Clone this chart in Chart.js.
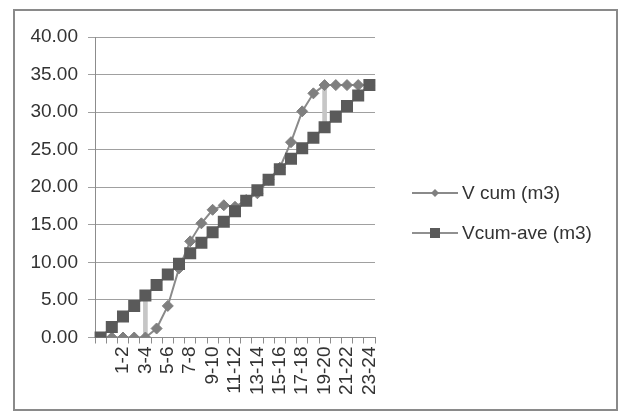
<!DOCTYPE html>
<html>
<head>
<meta charset="utf-8">
<script src="https://cdn.jsdelivr.net/npm/chart.js@4.4.1/dist/chart.umd.min.js"></script>
<style>
html, body { margin: 0; padding: 0; background: #fff; }
#wrap { width: 622px; height: 416px; position: relative; }
</style>
</head>
<body>
<div id="wrap"><canvas id="chart" width="622" height="416"></canvas></div>
<script>
/* -------------------- DATA -------------------- */
const hours = ['', '0-1', '1-2', '2-3', '3-4', '4-5', '5-6', '6-7', '7-8', '8-9', '9-10', '10-11',
    '11-12', '12-13', '13-14', '14-15', '15-16', '16-17', '17-18', '18-19', '19-20', '20-21',
    '21-22', '22-23', '23-24'];

const vCum = [0.00, 0.00, 0.00, 0.00, 0.00, 1.20, 4.20, 9.20, 12.80, 15.20, 17.00, 17.60,
    17.40, 18.30, 19.20, 21.00, 22.60, 26.00, 30.10, 32.50, 33.60, 33.60, 33.60, 33.60, 33.60];

const vCumAve = [0.00, 1.40, 2.80, 4.20, 5.60, 7.00, 8.40, 9.80, 11.20, 12.60, 14.00, 15.40,
    16.80, 18.20, 19.60, 21.00, 22.40, 23.80, 25.20, 26.60, 28.00, 29.40, 30.80, 32.20, 33.60];

// max gap markers (light grey bars)
const gapBars = [null, null, null, null, [0.00, 5.60], null, null, null, null, null, null, null,
    null, null, null, null, null, null, null, null, [28.00, 33.60], null, null, null, null];

const yTicks = [0, 5, 10, 15, 20, 25, 30, 35, 40];

/* -------------------- PLUGINS -------------------- */
const frame = {
    id: 'frame',
    afterDraw(chart) {
        const ctx = chart.ctx;
        ctx.save();
        ctx.strokeStyle = '#8a8a8a';
        ctx.lineWidth = 2;
        ctx.strokeRect(14, 10, 603, 400);
        ctx.restore();
    }
};

const sideLegend = {
    id: 'sideLegend',
    afterDraw(chart) {
        const ctx = chart.ctx;
        const rows = [193, 233];
        ctx.save();
        chart.data.datasets.slice(0, 2).forEach((ds, i) => {
            const y = rows[i];
            ctx.strokeStyle = ds.borderColor;
            ctx.lineWidth = 2;
            ctx.beginPath();
            ctx.moveTo(412, y);
            ctx.lineTo(458, y);
            ctx.stroke();

            ctx.fillStyle = ds.pointBackgroundColor;
            ctx.beginPath();
            if (ds.pointStyle === 'rect') {
                ctx.rect(430, y - 5, 10, 10);
            } else {
                ctx.moveTo(435, y - 4);
                ctx.lineTo(439, y);
                ctx.lineTo(435, y + 4);
                ctx.lineTo(431, y);
                ctx.closePath();
            }
            ctx.fill();

            ctx.fillStyle = '#333';
            ctx.font = '19px "Liberation Sans", Arial, sans-serif';
            ctx.textBaseline = 'middle';
            ctx.fillText(ds.label, 462, y + 1);
        });
        ctx.restore();
    }
};

/* -------------------- CHART -------------------- */
Chart.defaults.font.family = '"Liberation Sans", Arial, sans-serif';
Chart.defaults.font.size = 19;
Chart.defaults.color = '#333';

new Chart(document.getElementById('chart'), {
    type: 'line',
    data: {
        labels: hours,
        datasets: [
            {
                label: 'V cum (m3)',
                data: vCum,
                borderColor: '#8a8a8a',
                borderWidth: 2,
                pointStyle: 'rectRot',
                pointRadius: 5.5,
                pointBackgroundColor: '#7f7f7f',
                pointBorderColor: '#7f7f7f',
                pointBorderWidth: 1,
                tension: 0,
                order: 2
            },
            {
                label: 'Vcum-ave (m3)',
                data: vCumAve,
                borderColor: '#909090',
                borderWidth: 2,
                pointStyle: 'rect',
                pointRadius: 8.5,
                pointBackgroundColor: '#5a5a5a',
                pointBorderColor: '#5a5a5a',
                pointBorderWidth: 0,
                tension: 0,
                order: 1
            },
            {
                type: 'bar',
                label: 'gap',
                data: gapBars,
                backgroundColor: '#c6c6c6',
                barThickness: 4,
                order: 3
            }
        ]
    },
    options: {
        responsive: false,
        animation: false,
        layout: { padding: { top: 37, right: 247, left: 0, bottom: 0 } },
        plugins: {
            legend: { display: false },
            tooltip: { enabled: false }
        },
        scales: {
            x: {
                offset: true,
                grid: { offset: true, drawOnChartArea: false, tickLength: 6, color: '#8c8c8c' },
                border: { color: '#8c8c8c' },
                ticks: {
                    autoSkip: false,
                    minRotation: 90,
                    maxRotation: 90,
                    padding: 3,
                    callback: (v, i) => (i % 2 === 0 ? hours[i] : '')
                },
                afterFit(s) { s.height = 78.5; }
            },
            y: {
                min: 0,
                max: 40,
                afterBuildTicks(s) { s.ticks = yTicks.map(v => ({ value: v })); },
                ticks: { padding: 10, callback: v => v.toFixed(2) },
                grid: { color: '#a0a0a0', tickLength: 7 },
                border: { color: '#8c8c8c' },
                afterFit(s) { s.width = 95; }
            }
        }
    },
    plugins: [frame, sideLegend]
});
</script>
</body>
</html>
